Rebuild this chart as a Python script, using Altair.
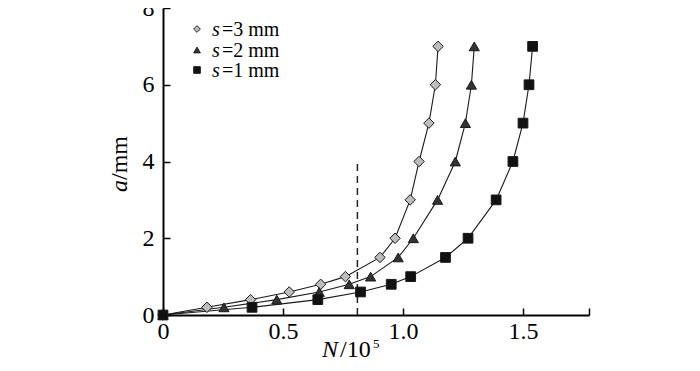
import altair as alt
import pandas as pd

# ---- data ----
A_VALUES = [0, 0.2, 0.4, 0.6, 0.8, 1.0, 1.5, 2, 3, 4, 5, 6, 7]
N_S3 = [0, 0.183, 0.365, 0.526, 0.657, 0.760, 0.904, 0.967, 1.030, 1.067, 1.108, 1.135, 1.146]
N_S2 = [0, 0.254, 0.474, 0.651, 0.776, 0.865, 0.980, 1.043, 1.144, 1.218, 1.260, 1.285, 1.297]
N_S1 = [0, 0.371, 0.645, 0.823, 0.951, 1.032, 1.177, 1.271, 1.388, 1.458, 1.500, 1.525, 1.540]
SERIES = ["s=3 mm", "s=2 mm", "s=1 mm"]
DASH_N = [0.81]
DASH_TOP = [3.95]
X_TICKS = [0, 0.5, 1.0, 1.5, 1.775]
Y_TICKS = [0, 2, 4, 6, 8]

rows = []
for name, ns in zip(SERIES, [N_S3, N_S2, N_S1]):
    for i, (n, a) in enumerate(zip(ns, A_VALUES)):
        rows.append({"series": name, "N": n, "a": a, "order": i})
df = pd.DataFrame(rows)

FONT = "Liberation Serif"
W, H = 426, 307

xscale = alt.Scale(domain=[0, 1.775], nice=False, zero=False)
yscale = alt.Scale(domain=[0, 8], nice=False)

xaxis = alt.Axis(values=X_TICKS, title=None, grid=False, labelFlush=False,
                 labelExpr="datum.value == 0 ? '0' : (datum.value > 1.6 ? '' : format(datum.value, '.1f'))",
                 tickSize=alt.ExprRef(expr="-7"), labelPadding=11)
yaxis = alt.Axis(values=Y_TICKS, title=None, grid=False, format="d", labelFlush=False,
                 tickSize=alt.ExprRef(expr="-7"), labelPadding=16)

base = alt.Chart(df)

lines = base.mark_line(color="#1a1a1a", strokeWidth=1.1).encode(
    x=alt.X("N:Q", scale=xscale, axis=xaxis),
    y=alt.Y("a:Q", scale=yscale, axis=yaxis),
    detail="series:N",
    order="order:Q",
)

shape_scale = alt.Scale(domain=SERIES, range=["diamond", "triangle-up", "square"])
fill_scale = alt.Scale(domain=SERIES, range=["#bdbdbd", "#333333", "#111111"])
size_scale = alt.Scale(domain=SERIES, range=[110, 95, 85])

points = base.mark_point(filled=True, stroke="#1a1a1a", strokeWidth=1, opacity=1).encode(
    x=alt.X("N:Q", scale=xscale),
    y=alt.Y("a:Q", scale=yscale),
    shape=alt.Shape("series:N", scale=shape_scale, legend=None),
    fill=alt.Fill("series:N", scale=fill_scale, legend=None),
    size=alt.Size("series:N", scale=size_scale, legend=None),
    order=alt.Order("series:N", sort="descending"),
)

dash = alt.Chart(pd.DataFrame({"N": DASH_N, "top": DASH_TOP, "bottom": [0]})).mark_rule(
    color="#222222", strokeWidth=1.5, strokeDash=[7, 5]
).encode(x=alt.X("N:Q", scale=xscale), y=alt.Y("bottom:Q", scale=yscale), y2="top:Q")

def txt(text, x, y, size=24, italic=False, angle=0, align="left", baseline="alphabetic"):
    kw = dict(font=FONT, fontSize=size, color="#000000", align=align, baseline=baseline)
    if italic:
        kw["fontStyle"] = "italic"
    if angle:
        kw["angle"] = angle
    return alt.Chart(pd.DataFrame({"t": [text]})).mark_text(**kw).encode(
        text="t:N", x=alt.value(x), y=alt.value(y))

# legend (manual, to keep italic s)
leg_y = [21, 42, 62]
leg_shapes = ["diamond", "triangle-up", "square"]
leg_fill = ["#bdbdbd", "#333333", "#111111"]
leg_layers = []
for name, yy, shp, fc in zip(SERIES, leg_y, leg_shapes, leg_fill):
    leg_layers.append(
        alt.Chart(pd.DataFrame({"t": [name]})).mark_point(
            shape=shp, filled=True, fill=fc, stroke="#222222", strokeWidth=1, size=45, opacity=1
        ).encode(x=alt.value(34), y=alt.value(yy))
    )
    leg_layers.append(txt("s", 49, yy + 1, size=20, italic=True, baseline="middle"))
    leg_layers.append(txt(name[1:], 59, yy + 1, size=20, baseline="middle"))

titles = [
    txt("N", 159, 349, italic=True),
    txt("/10", 177, 349),
    txt("5", 210, 340, size=13),
    txt("a", -43, 184, italic=True, angle=270, baseline="middle"),
    txt("/mm", -43, 172, angle=270, baseline="middle"),
]

chart = alt.layer(lines, dash, points, *leg_layers, *titles).properties(
    width=W, height=H,
    autosize=alt.AutoSizeParams(type="none"),
    padding={"left": 155, "top": 0, "right": 100, "bottom": 48},
).configure_view(stroke=None).configure_axis(
    domainColor="black", domainWidth=2, tickColor="black", tickWidth=1.5,
    labelFont=FONT, labelFontSize=24, labelColor="black",
)

chart.save("out.html", embed_options={"renderer": "svg", "actions": False})
